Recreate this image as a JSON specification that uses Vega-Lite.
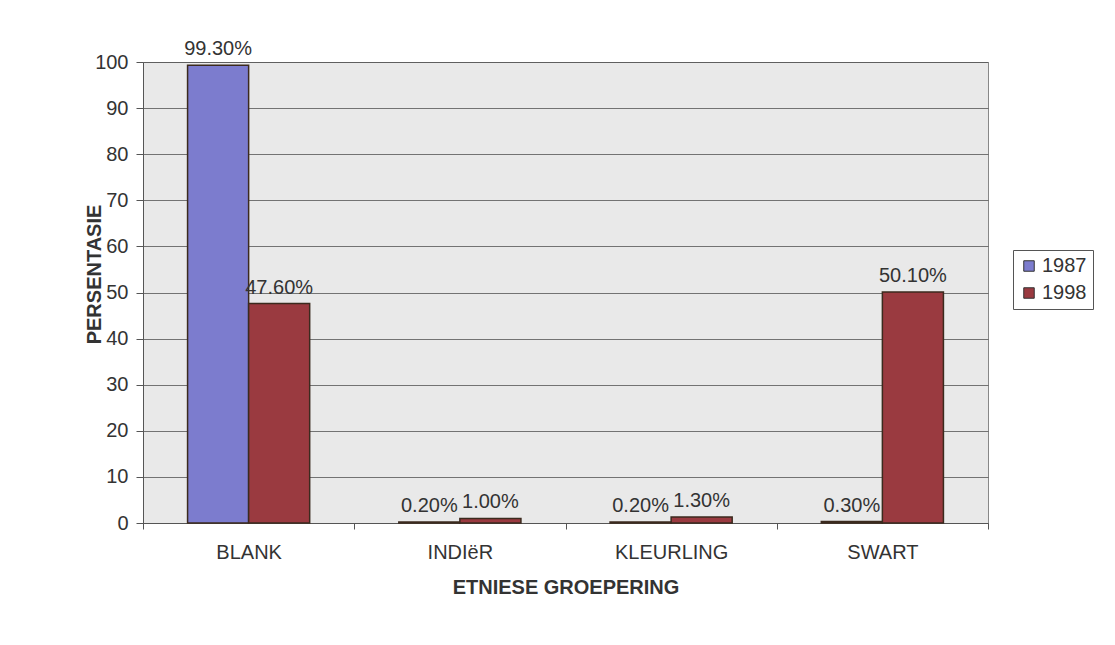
{
  "$schema": "https://vega.github.io/schema/vega-lite/v6.json",
  "width": 845,
  "height": 461,
  "autosize": {"type": "none"},
  "padding": {"left": 143, "top": 62, "right": 127, "bottom": 122},
  "background": "#ffffff",
  "data": {
    "values": [
      {"group": "BLANK", "year": "1987", "value": 99.3},
      {"group": "BLANK", "year": "1998", "value": 47.6},
      {"group": "INDIëR", "year": "1987", "value": 0.2},
      {"group": "INDIëR", "year": "1998", "value": 1.0},
      {"group": "KLEURLING", "year": "1987", "value": 0.2},
      {"group": "KLEURLING", "year": "1998", "value": 1.3},
      {"group": "SWART", "year": "1987", "value": 0.3},
      {"group": "SWART", "year": "1998", "value": 50.1}
    ]
  },
  "transform": [
    {"calculate": "format(datum.value, '.2f') + '%'", "as": "label"}
  ],
  "encoding": {
    "x": {
      "field": "group",
      "type": "nominal",
      "sort": ["BLANK", "INDIëR", "KLEURLING", "SWART"],
      "scale": {"paddingInner": 0, "paddingOuter": 0},
      "axis": {
        "title": "ETNIESE  GROEPERING",
        "titleFont": "Liberation Sans",
        "titleFontSize": 20,
        "titleFontWeight": "bold",
        "titleColor": "#333333",
        "titlePadding": 15,
        "labelFont": "Liberation Sans",
        "labelFontSize": 20,
        "labelColor": "#333333",
        "labelAngle": 0,
        "labelPadding": 13,
        "tickBand": "extent",
        "tickColor": "#555555",
        "tickSize": 6,
        "domainColor": "#555555",
        "grid": false
      }
    },
    "xOffset": {
      "field": "year",
      "type": "nominal",
      "scale": {"paddingInner": 0, "paddingOuter": 0.73}
    }
  },
  "layer": [
    {
      "mark": {"type": "bar", "stroke": "#3b2a1e", "strokeWidth": 1.5},
      "encoding": {
        "y": {
          "field": "value",
          "type": "quantitative",
          "scale": {"domain": [0, 100]},
          "axis": {
            "title": "PERSENTASIE",
            "titleFont": "Liberation Sans",
            "titleFontSize": 20,
            "titleFontWeight": "bold",
            "titleColor": "#333333",
            "titleX": -39,
            "titleY": 212,
            "titleAlign": "center",
            "titleBaseline": "bottom",
            "labelFont": "Liberation Sans",
            "labelFontSize": 20,
            "labelColor": "#333333",
            "values": [0, 10, 20, 30, 40, 50, 60, 70, 80, 90, 100],
            "tickColor": "#555555",
            "tickSize": 7,
            "labelPadding": 8,
            "domainColor": "#555555",
            "gridColor": "#555555",
            "gridOpacity": 0.8
          }
        },
        "color": {
          "field": "year",
          "type": "nominal",
          "scale": {"domain": ["1987", "1998"], "range": ["#7c7cce", "#9a3a40"]},
          "legend": {
            "title": null,
            "orient": "none",
            "legendX": 870,
            "legendY": 188,
            "symbolType": "square",
            "symbolSize": 110,
            "symbolStrokeColor": "#333333",
            "symbolStrokeWidth": 1,
            "labelFont": "Liberation Sans",
            "labelFontSize": 20,
            "labelColor": "#333333",
            "labelOffset": 3,
            "rowPadding": 7,
            "padding": 6,
            "strokeColor": "#555555",
            "fillColor": "#ffffff"
          }
        }
      }
    },
    {
      "mark": {"type": "text", "baseline": "bottom", "dy": -6, "font": "Liberation Sans", "fontSize": 20, "color": "#333333"},
      "encoding": {
        "y": {"field": "value", "type": "quantitative"},
        "text": {"field": "label", "type": "nominal"}
      }
    }
  ],
  "config": {
    "view": {"fill": "#e9e9e9", "stroke": "#888888"}
  }
}
